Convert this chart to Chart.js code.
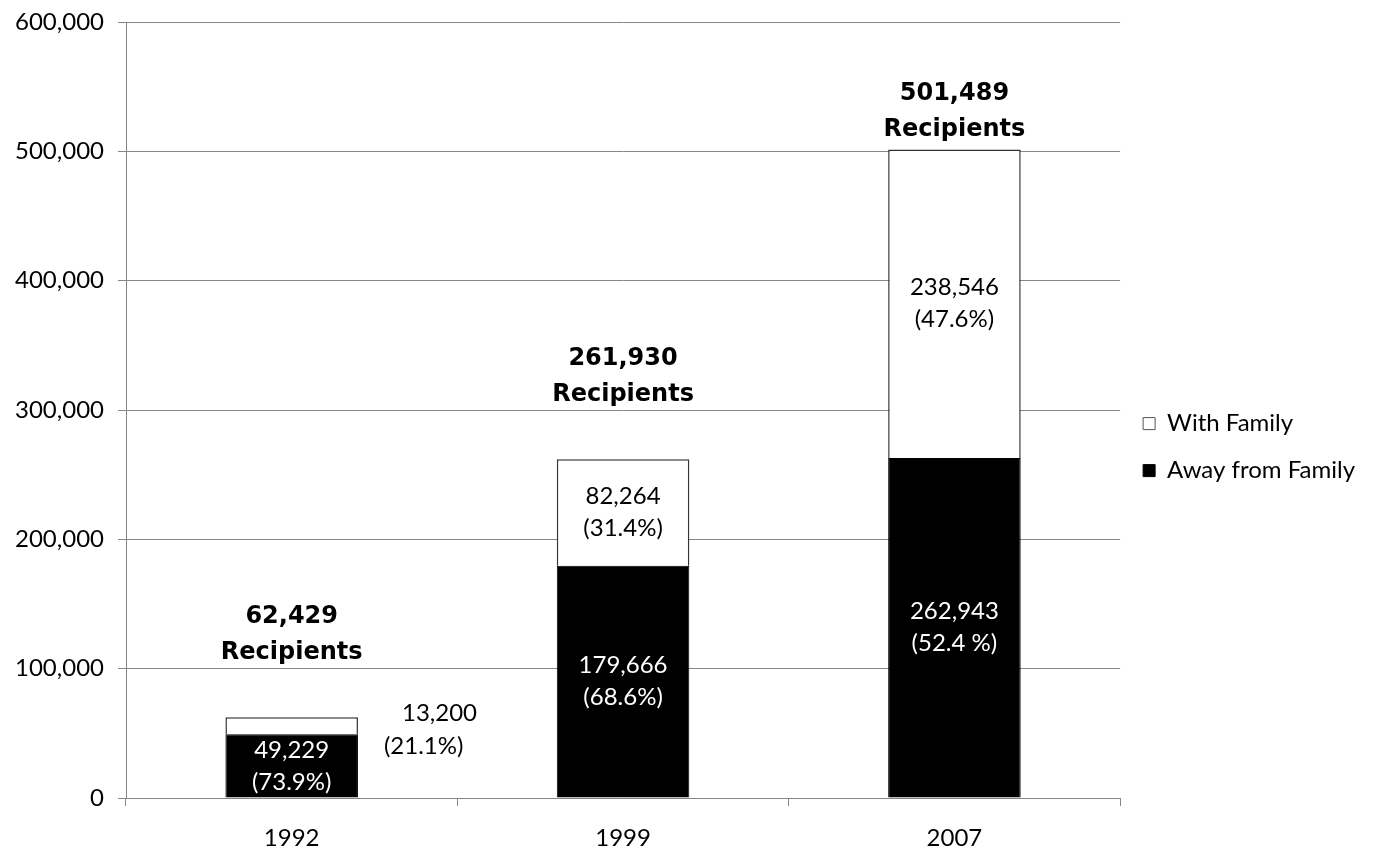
<!DOCTYPE html>
<html>
<head>
<meta charset="utf-8">
<script src="https://cdn.jsdelivr.net/npm/chart.js@4.4.1/dist/chart.umd.min.js"></script>
<style>
  html, body { margin: 0; padding: 0; background: #fff; }
  #wrap { width: 1386px; height: 852px; }
</style>
</head>
<body>
<div id="wrap"><canvas id="recipChart" width="1386" height="852"></canvas></div>
<script>
// Chart data
const years = ["1992", "1999", "2007"];
const awayFromFamily = [49229, 179666, 262943];
const withFamily = [13200, 82264, 238546];
const awayPct = ["(73.9%)", "(68.6%)", "(52.4 %)"];
const withPct = ["(21.1%)", "(31.4%)", "(47.6%)"];
const yTicks = [0, 100000, 200000, 300000, 400000, 500000, 600000];

const FONT = "Lato, 'Open Sans', sans-serif";
const BOLD_FONT = "'DejaVu Sans', sans-serif";
const fmt = v => v.toLocaleString("en-US");

// Draws the segment values and the totals above each stack
const barLabels = {
    id: "barLabels",
    afterDatasetsDraw(chart) {
        const ctx = chart.ctx;
        const area = chart.chartArea;
        ctx.save();
        ctx.textAlign = "center";
        ctx.textBaseline = "middle";
        ctx.font = "24px " + FONT;

        chart.data.datasets.forEach((ds, di) => {
            const meta = chart.getDatasetMeta(di);
            meta.data.forEach((bar, i) => {
                const top = Math.min(bar.y, bar.base);
                const bottom = Math.max(bar.y, bar.base);
                const pct = di === 0 ? awayPct[i] : withPct[i];
                const lines = [fmt(ds.data[i]), pct];
                if (bottom - top < 50) {
                    // too small, put it beside the bar
                    ctx.fillStyle = "#000";
                    ctx.textAlign = "left";
                    const x = bar.x + bar.width / 2 + 26;
                    ctx.fillText(lines[0], x + 18, top - 4);
                    ctx.fillText(lines[1], x, top + 29);
                    ctx.textAlign = "center";
                } else {
                    ctx.fillStyle = di === 0 ? "#fff" : "#000";
                    const cy = (top + bottom) / 2;
                    ctx.fillText(lines[0], bar.x, cy - 16);
                    ctx.fillText(lines[1], bar.x, cy + 16);
                }
            });
        });

        // totals
        const topMeta = chart.getDatasetMeta(1);
        ctx.font = "bold 24px " + BOLD_FONT;
        ctx.fillStyle = "#000";
        topMeta.data.forEach((bar, i) => {
            const total = awayFromFamily[i] + withFamily[i];
            const y2 = Math.max(bar.y - 64, area.top + 108);
            ctx.fillText(fmt(total), bar.x, y2 - 36);
            ctx.fillText("Recipients", bar.x, y2);
        });
        ctx.restore();
    }
};

Chart.defaults.font.family = FONT;
Chart.defaults.font.size = 24;
Chart.defaults.color = "#000";

new Chart(document.getElementById("recipChart").getContext("2d"), {
    type: "bar",
    data: {
        labels: years,
        datasets: [
            {
                label: "Away from Family",
                data: awayFromFamily,
                backgroundColor: "#000",
                borderColor: "#000",
                borderWidth: 1,
                barPercentage: 0.5,
                categoryPercentage: 0.8,
            },
            {
                label: "With Family",
                data: withFamily,
                backgroundColor: "#fff",
                borderColor: "#333",
                borderWidth: 1.5,
                barPercentage: 0.5,
                categoryPercentage: 0.8,
            }
        ]
    },
    options: {
        responsive: false,
        animation: false,
        layout: { padding: { top: 22, right: 21, left: 0, bottom: 0 } },
        plugins: {
            tooltip: { enabled: false },
            legend: {
                position: "right",
                reverse: true,
                title: {
                    display: true,
                    text: " ",
                    font: { size: 1 },
                    padding: { top: 0, bottom: 19 }
                },
                labels: {
                    boxWidth: 12,
                    boxHeight: 12,
                    padding: 23,
                    font: { size: 24 },
                    generateLabels(chart) {
                        return chart.data.datasets.map((ds, i) => ({
                            text: ds.label,
                            fillStyle: ds.backgroundColor,
                            strokeStyle: i === 1 ? "#555" : "#000",
                            lineWidth: 1,
                            datasetIndex: i,
                            fontColor: "#000",
                        }));
                    }
                }
            }
        },
        scales: {
            x: {
                stacked: true,
                offset: true,
                grid: {
                    offset: true,
                    drawOnChartArea: false,
                    tickLength: 8,
                    color: "#868686",
                },
                border: { color: "#868686" },
                ticks: { padding: 18, font: { size: 24 } },
                afterFit(s) { s.height = 54; }
            },
            y: {
                stacked: true,
                min: 0,
                max: 600000,
                afterBuildTicks(s) { s.ticks = yTicks.map(v => ({ value: v })); },
                grid: { color: "#868686", tickLength: 8 },
                border: { color: "#868686" },
                ticks: {
                    padding: 14,
                    font: { size: 24 },
                    callback: v => fmt(v)
                },
                afterFit(s) {
                    s.width = 126;
                    s.paddingTop = 0;
                    s.paddingBottom = 0;
                }
            }
        }
    },
    plugins: [barLabels]
});
</script>
</body>
</html>
